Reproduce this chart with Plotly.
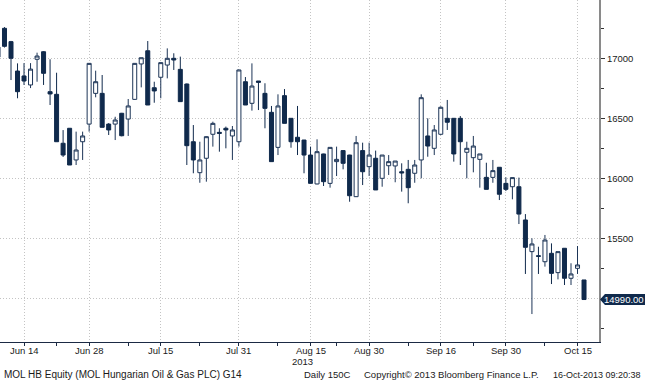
import pandas as pd
import plotly.graph_objects as go

# ---- data -------------------------------------------------------------
holidays = ["2013-08-19", "2013-08-20"]
dates = [d.strftime("%Y-%m-%d") for d in pd.bdate_range("2013-06-10", "2013-10-16")
         if d.strftime("%Y-%m-%d") not in holidays]

open_ = [17010, 17250, 17139, 16894, 16853, 16778, 16992, 17055, 16722, 16700,
         16292, 16417, 16153, 16305, 16452, 16708, 16708, 16452, 16452, 16542,
         16494, 16658, 16953, 17063, 16755, 16842, 16944, 17000, 16908, 16786,
         16305, 16047, 16167, 16367, 16383, 16417, 16353, 16305, 16805, 16625,
         16811, 16708, 16550, 16258, 16689, 16500, 16342, 16319, 16194, 15953,
         16203, 15958, 16139, 16231, 16194, 15847, 16231, 16097, 16167, 16000,
         16105, 16103, 16055, 16075, 16042, 16153, 16353, 16250, 16367, 16500,
         16500, 16500, 16217, 16172, 16158, 16008, 16008, 16092, 15958, 15930,
         15930, 15653, 15389, 15355, 15305, 15375, 15214, 15417, 15167, 15250,
         15153]
high = [17110, 17260, 17145, 16958, 16960, 16960, 17047, 17060, 16992, 16880,
        16402, 16417, 16389, 16389, 16960, 16897, 16861, 16460, 16513, 16545,
        16661, 16960, 17005, 17144, 16805, 16964, 17083, 17042, 17014, 16790,
        16444, 16305, 16350, 16472, 16417, 16431, 16436, 16905, 16844, 16958,
        16811, 16792, 16603, 16700, 16744, 16500, 16603, 16320, 16264, 16325,
        16205, 16258, 16264, 16233, 16196, 16353, 16297, 16297, 16231, 16194,
        16194, 16144, 16125, 16153, 16153, 16700, 16500, 16444, 16600, 16653,
        16502, 16519, 16305, 16353, 16203, 16130, 16153, 16094, 16008, 16006,
        16006, 15702, 15500, 15430, 15528, 15458, 15389, 15419, 15292, 15436,
        15153]
low = [16990, 17090, 16819, 16667, 16778, 16752, 16805, 16778, 16611, 16305,
       16178, 16111, 16111, 16153, 16389, 16675, 16425, 16361, 16319, 16350,
       16353, 16655, 16758, 16611, 16630, 16667, 16833, 16903, 16639, 16111,
       16042, 15963, 15972, 16264, 16222, 16250, 16153, 16264, 16611, 16564,
       16569, 16417, 16139, 16194, 16458, 16255, 16194, 16042, 15958, 15950,
       15936, 15922, 16019, 16075, 15805, 15845, 15944, 16019, 15903, 15930,
       16028, 15967, 15889, 15792, 15963, 16000, 16180, 16194, 16360, 16403,
       16139, 16111, 16000, 16050, 15922, 15908, 15963, 15819, 15894, 15825,
       15619, 15203, 14869, 15203, 15264, 15119, 15158, 15111, 15111, 15203,
       14990]
close = [17094, 17100, 17000, 16722, 16811, 16910, 17019, 16875, 16703, 16305,
         16194, 16111, 16236, 16353, 16958, 16805, 16425, 16403, 16486, 16355,
         16603, 16958, 17005, 16611, 16728, 16964, 17000, 16986, 16639, 16272,
         16153, 16153, 16347, 16458, 16375, 16403, 16403, 16903, 16611, 16769,
         16800, 16583, 16139, 16603, 16458, 16305, 16305, 16194, 15958, 16222,
         15972, 16258, 16158, 16125, 15855, 16297, 16055, 16194, 15903, 16194,
         16139, 16144, 16045, 15922, 16111, 16672, 16269, 16403, 16592, 16467,
         16203, 16305, 16250, 16269, 16203, 15908, 16064, 15867, 15908, 16006,
         15702, 15425, 15453, 15350, 15486, 15208, 15389, 15167, 15203, 15278,
         14990]

tick_dates = ["2013-06-14", "2013-06-28", "2013-07-15", "2013-07-31", "2013-08-15",
              "2013-08-30", "2013-09-16", "2013-09-30", "2013-10-15"]
tick_text = ["Jun 14", "Jun 28", "Jul 15", "Jul 31", "Aug 15",
             "Aug 30", "Sep 16", "Sep 30", "Oct 15"]
minor_tick_dates = ["2013-06-21", "2013-07-08", "2013-07-23", "2013-08-08",
                    "2013-08-23", "2013-09-09", "2013-09-23", "2013-10-08"]
y_tickvals = [15000, 15500, 16000, 16500, 17000]
y_ticktext = ["", "15500", "16000", "16500", "17000"]

# ---- figure -----------------------------------------------------------
W, H = 645, 380
ML, MR, MT, MB = 0, 46, 0, 38
PW, PH = W - ML - MR, H - MT - MB
Y0, Y1 = 14636, 17486

def px_x(p):
    return (p - ML) / PW

def px_y(p):
    return (H - MB - p) / PH

idx = list(range(len(dates)))
navy = "#102a4c"
font = "Liberation Sans"
dots = "1px,2px"
txtc = "#1a1a1a"

fig = go.Figure()
fig.add_trace(go.Candlestick(
    x=idx, open=open_, high=high, low=low, close=close,
    increasing=dict(fillcolor="#ffffff", line=dict(color="#1d3557", width=1)),
    decreasing=dict(fillcolor=navy, line=dict(color=navy, width=1)),
    whiskerwidth=0, hoverinfo="skip", showlegend=False,
))

xt = [dates.index(d) for d in tick_dates]
xm = [dates.index(d) for d in minor_tick_dates]

fig.update_layout(
    width=W, height=H,
    margin=dict(l=ML, r=MR, t=MT, b=MB, autoexpand=False),
    paper_bgcolor="white", plot_bgcolor="white",
    boxgap=0.12,
    font=dict(family=font, size=9, color=txtc),
    xaxis=dict(
        range=[0.31, 92.3], tickmode="array", tickvals=xt, ticktext=tick_text,
        showticklabels=False,
        showgrid=True, gridcolor="#c4c4c4", griddash=dots, gridwidth=1,
        showline=True, linecolor="#1b2a44", linewidth=1,
        ticks="outside", ticklen=3, tickcolor="#1b2a44",
        minor=dict(tickmode="array", tickvals=xm, ticks="outside", ticklen=3,
                   tickcolor="#1b2a44", showgrid=False),
        zeroline=False, rangeslider=dict(visible=False), automargin=False,
        fixedrange=True,
    ),
    yaxis=dict(
        side="right", range=[Y0, Y1], tickmode="array",
        tickvals=y_tickvals, ticktext=y_ticktext,
        showgrid=True, gridcolor="#c4c4c4", griddash=dots, gridwidth=1,
        showline=True, linecolor="#8a8a8a", linewidth=2,
        ticks="outside", ticklen=4, tickcolor="#333333",
        minor=dict(dtick=250, tick0=15000, ticks="outside", ticklen=3,
                   tickcolor="#333333", showgrid=False),
        zeroline=False, automargin=False,
        tickfont=dict(size=9.5, color=txtc), fixedrange=True,
    ),
)

# x tick labels (placed as text so they sit close to the axis like the original)
for xv, lab in zip(xt, tick_text):
    fig.add_annotation(xref="x", yref="paper", x=xv, y=px_y(350.5), text=lab,
                       showarrow=False, xanchor="center", yanchor="middle",
                       font=dict(family=font, size=9.5, color=txtc))

# last-price tag
last = close[-1]
half = 5.5 * (Y1 - Y0) / PH
fig.add_shape(type="path", xref="paper", yref="y",
              path=(f"M {px_x(600)},{last} L {px_x(605)},{last + half} "
                    f"L {px_x(645)},{last + half} L {px_x(645)},{last - half} "
                    f"L {px_x(605)},{last - half} Z"),
              fillcolor=navy, line=dict(width=0), layer="above")
fig.add_annotation(xref="paper", yref="y", x=px_x(624), y=last,
                   text=f"{last:.2f}", showarrow=False,
                   font=dict(family=font, size=9.5, color="white"),
                   xanchor="center", yanchor="middle")

# year label
fig.add_annotation(xref="x", yref="paper", x=dates.index("2013-08-15"), y=px_y(361.5),
                   text="2013", showarrow=False, xanchor="center", yanchor="middle",
                   xshift=-8, font=dict(family=font, size=9.5, color=txtc))

# footer
footer = [(2, "left", 10, "MOL HB Equity (MOL Hungarian Oil & Gas PLC) G14"),
          (302, "left", 9.5, "Daily 150C"),
          (362, "left", 9.5, "Copyright\u00a9 2013 Bloomberg Finance L.P."),
          (643, "right", 9, "16-Oct-2013 09:20:38")]
for px, anc, fs, txt in footer:
    fig.add_annotation(xref="paper", yref="paper", x=px_x(px), y=px_y(374.5),
                       text=txt, showarrow=False, xanchor=anc, yanchor="middle",
                       font=dict(family=font, size=fs, color=txtc))

fig.write_html("out.html", config={"displayModeBar": False},
               post_script="document.body.style.margin='0';"
                           "document.body.style.overflow='hidden';")
